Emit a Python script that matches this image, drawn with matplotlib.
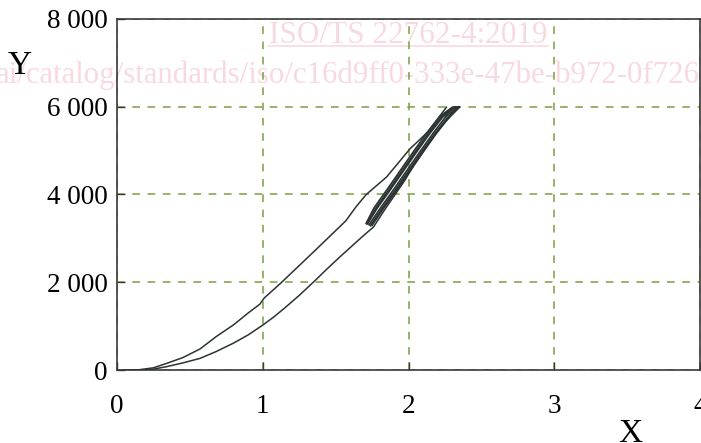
import matplotlib
matplotlib.use("Agg")
import matplotlib.pyplot as plt
from matplotlib.lines import Line2D

# axes
x_ticks = [0, 1, 2, 3, 4]
x_labels = ["0", "1", "2", "3", "4"]
y_ticks = [0, 2000, 4000, 6000, 8000]
y_labels = ["0", "2 000", "4 000", "6 000", "8 000"]

# first cycle, upper branch
upper_x = [0.05, 0.15, 0.25, 0.34, 0.45, 0.57, 0.68, 0.80, 0.90, 0.98, 1.01,
           1.13, 1.25, 1.37, 1.47, 1.57, 1.64, 1.71, 1.78, 1.85, 1.93, 2.01,
           2.08, 2.14, 2.20, 2.26]
upper_y = [0, 5, 50, 150, 280, 480, 760, 1030, 1300, 1500, 1640,
           2000, 2380, 2760, 3080, 3400, 3720, 4000, 4200, 4400, 4720, 5040,
           5260, 5450, 5720, 5990]

# first cycle, lower branch
lower_x = [0.18, 0.25, 0.34, 0.45, 0.57, 0.68, 0.80, 0.90, 1.00, 1.08, 1.16,
           1.25, 1.35, 1.44, 1.53, 1.62, 1.69, 1.76, 1.83, 1.90, 1.97, 2.04,
           2.11, 2.18, 2.25, 2.35]
lower_y = [0, 20, 76, 160, 265, 420, 614, 800, 1023, 1220, 1440,
           1700, 2010, 2300, 2580, 2850, 3060, 3260, 3620, 3960, 4300, 4680,
           5020, 5360, 5650, 5990]

# following cycles (dense bundle near the top): loading then unloading
cyc_up_x = [
    [1.74, 1.82, 1.91, 2.00, 2.09, 2.18, 2.27, 2.345],
    [1.75, 1.83, 1.92, 2.01, 2.10, 2.19, 2.28, 2.35],
    [1.73, 1.81, 1.90, 1.99, 2.08, 2.17, 2.26, 2.34],
]
cyc_up_y = [
    [3290, 3680, 4100, 4530, 4960, 5380, 5760, 5990],
    [3300, 3690, 4110, 4540, 4970, 5390, 5770, 6000],
    [3310, 3700, 4120, 4550, 4980, 5400, 5790, 5995],
]
cyc_down_x = [
    [2.31, 2.225, 2.135, 2.045, 1.955, 1.865, 1.775, 1.715],
    [2.32, 2.235, 2.145, 2.055, 1.965, 1.875, 1.785, 1.72],
    [2.30, 2.215, 2.125, 2.035, 1.945, 1.855, 1.765, 1.71],
]
cyc_down_y = [
    [5995, 5760, 5380, 4960, 4530, 4100, 3680, 3330],
    [5990, 5770, 5390, 4970, 4540, 4110, 3690, 3340],
    [5985, 5780, 5400, 4980, 4550, 4120, 3700, 3345],
]

COUL_COURBE = "#2b3333"
COUL_GRILLE = "#7a9e3e"
COUL_AXE = "#3a3a3a"
COUL_FILIGRANE = "#f9d9e1"
POLICE = "Liberation Serif"

fig = plt.figure(figsize=(7.01, 4.43), dpi=100, facecolor="white")
ax = fig.add_axes([117 / 701, 1 - 370 / 443, 583 / 701, 351 / 443])
ax.patch.set_visible(False)

# filigrane en arriere-plan
fig.text(408 / 701, 1 - 43 / 443, "ISO/TS 22762-4:2019", ha="center",
         va="baseline", fontsize=22.5, family=POLICE, color=COUL_FILIGRANE,
         zorder=-1)
fig.add_artist(Line2D([268 / 701, 548 / 701], [1 - 46 / 443, 1 - 46 / 443],
                      color=COUL_FILIGRANE, lw=1.2, zorder=-1))
fig.text(-4 / 701, 1 - 83 / 443,
         "ai/catalog/standards/iso/c16d9ff0-333e-47be-b972-0f726",
         ha="left", va="baseline", fontsize=22.2, family=POLICE,
         color=COUL_FILIGRANE, zorder=-1)

# courbes
ax.plot(upper_x, upper_y, color=COUL_COURBE, lw=1.1, zorder=3)
ax.plot(lower_x, lower_y, color=COUL_COURBE, lw=1.1, zorder=3)
for ux, uy, dx, dy in zip(cyc_up_x, cyc_up_y, cyc_down_x, cyc_down_y):
    ax.plot(ux + dx, uy + dy, color=COUL_COURBE, lw=1.3, zorder=3)

ax.set_xlim(0, 4)
ax.set_ylim(0, 8000)
ax.set_xticks(x_ticks)
ax.set_xticklabels(x_labels)
ax.set_yticks(y_ticks)
ax.set_yticklabels(y_labels)

ax.grid(True, color=COUL_GRILLE, lw=1.1, linestyle=(0, (5, 5)))
ax.tick_params(axis="both", direction="in", length=6, width=1,
               color=COUL_AXE, labelsize=19.5, labelfontfamily=POLICE)
ax.tick_params(axis="x", pad=17)
ax.tick_params(axis="y", pad=6.5)
for sp in ax.spines.values():
    sp.set_color(COUL_AXE)
    sp.set_linewidth(1.2)

fig.text(630 / 701, 1 - 442 / 443, "X", ha="center", va="baseline",
         fontsize=24, family=POLICE, color="black")
fig.text(20 / 701, 1 - 74 / 443, "Y", ha="center", va="baseline",
         fontsize=24, family=POLICE, color="black")

fig.savefig("out.png", dpi=100, facecolor="white")
